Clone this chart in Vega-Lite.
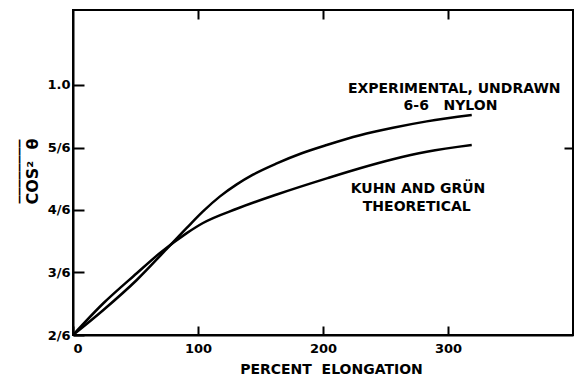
{
  "$schema": "https://vega.github.io/schema/vega-lite/v6.json",
  "width": 500,
  "height": 325,
  "autosize": "none",
  "padding": {"left": 73, "top": 10, "right": 10, "bottom": 40},
  "background": "white",
  "config": {
    "view": {"stroke": "black", "strokeWidth": 2},
    "font": "DejaVu Sans",
    "axis": {"domainColor": "black", "domainWidth": 2, "tickColor": "black", "tickWidth": 2, "grid": false, "labelFont": "DejaVu Sans", "labelFontWeight": "bold", "labelFontSize": 13, "labelColor": "black", "titleFont": "DejaVu Sans", "titleFontWeight": "bold", "titleFontSize": 13, "titleColor": "black"}
  },
  "datasets": {
    "curves": [
      {"series": "Kuhn", "x": 0, "y": 0.3333},
      {"series": "Kuhn", "x": 24.3, "y": 0.418},
      {"series": "Kuhn", "x": 51, "y": 0.498},
      {"series": "Kuhn", "x": 69.6, "y": 0.552},
      {"series": "Kuhn", "x": 91, "y": 0.605},
      {"series": "Kuhn", "x": 104, "y": 0.632},
      {"series": "Kuhn", "x": 131, "y": 0.67},
      {"series": "Kuhn", "x": 163, "y": 0.708},
      {"series": "Kuhn", "x": 203, "y": 0.751},
      {"series": "Kuhn", "x": 229.6, "y": 0.778},
      {"series": "Kuhn", "x": 256, "y": 0.802},
      {"series": "Kuhn", "x": 283, "y": 0.822},
      {"series": "Kuhn", "x": 319, "y": 0.84},
      {"series": "Exp", "x": 0, "y": 0.3333},
      {"series": "Exp", "x": 24.3, "y": 0.4},
      {"series": "Exp", "x": 51, "y": 0.48},
      {"series": "Exp", "x": 73.6, "y": 0.558},
      {"series": "Exp", "x": 91, "y": 0.619},
      {"series": "Exp", "x": 104, "y": 0.663},
      {"series": "Exp", "x": 117.6, "y": 0.703},
      {"series": "Exp", "x": 131, "y": 0.735},
      {"series": "Exp", "x": 144, "y": 0.761},
      {"series": "Exp", "x": 163, "y": 0.791},
      {"series": "Exp", "x": 183, "y": 0.818},
      {"series": "Exp", "x": 203, "y": 0.84},
      {"series": "Exp", "x": 229.6, "y": 0.866},
      {"series": "Exp", "x": 256, "y": 0.886},
      {"series": "Exp", "x": 283, "y": 0.903},
      {"series": "Exp", "x": 319, "y": 0.92}
    ],
    "labels": [
      {"text": "EXPERIMENTAL, UNDRAWN", "x": 305, "y": 0.99},
      {"text": "6-6\u00a0\u00a0\u00a0NYLON", "x": 302, "y": 0.945},
      {"text": "KUHN AND GRÜN", "x": 276, "y": 0.723},
      {"text": "THEORETICAL", "x": 275, "y": 0.675}
    ]
  },
  "resolve": {"axis": {"x": "independent", "y": "independent"}},
  "layer": [
    {
      "data": {"name": "curves"},
      "mark": {"type": "line", "color": "black", "strokeWidth": 2.5, "interpolate": "monotone"},
      "encoding": {
        "x": {"field": "x", "type": "quantitative", "scale": {"domain": [0, 400], "nice": false},
          "axis": {"values": [0, 100, 200, 300], "tickSize": -9, "labelPadding": 16, "title": "PERCENT\u00a0\u00a0ELONGATION", "titleFontSize": 14, "titleX": 258, "titleY": 27, "titleBaseline": "top", "titleAnchor": null}},
        "y": {"field": "y", "type": "quantitative", "scale": {"domain": [0.33333, 1.2], "nice": false, "zero": false},
          "axis": {"values": [0.33333, 0.5, 0.66667, 0.83333, 1.0], "tickSize": -11, "labelPadding": 14, "labelBaseline": "middle",
            "labelExpr": "datum.value < 0.4 ? '2/6' : datum.value < 0.6 ? '3/6' : datum.value < 0.7 ? '4/6' : datum.value < 0.9 ? '5/6' : '1.0'",
            "title": ["________", "COS²\u00a0\u00a0θ"], "titleFontSize": 16, "titleLineHeight": 21, "titleX": -57, "titleY": 161, "titleAnchor": null, "titleBaseline": "alphabetic"}},
        "detail": {"field": "series"}
      }
    },
    {
      "data": {"name": "labels"},
      "mark": {"type": "text", "font": "DejaVu Sans", "fontWeight": "bold", "fontSize": 14, "color": "black", "align": "center", "baseline": "middle"},
      "encoding": {
        "x": {"field": "x", "type": "quantitative",
          "axis": {"orient": "top", "values": [100, 200, 300], "labels": false, "domain": false, "tickSize": -9, "tickWidth": 2, "title": null}},
        "y": {"field": "y", "type": "quantitative",
          "axis": {"orient": "right", "values": [0.83333], "labels": false, "domain": false, "tickSize": -9, "title": null}},
        "text": {"field": "text"}
      }
    }
  ]
}
